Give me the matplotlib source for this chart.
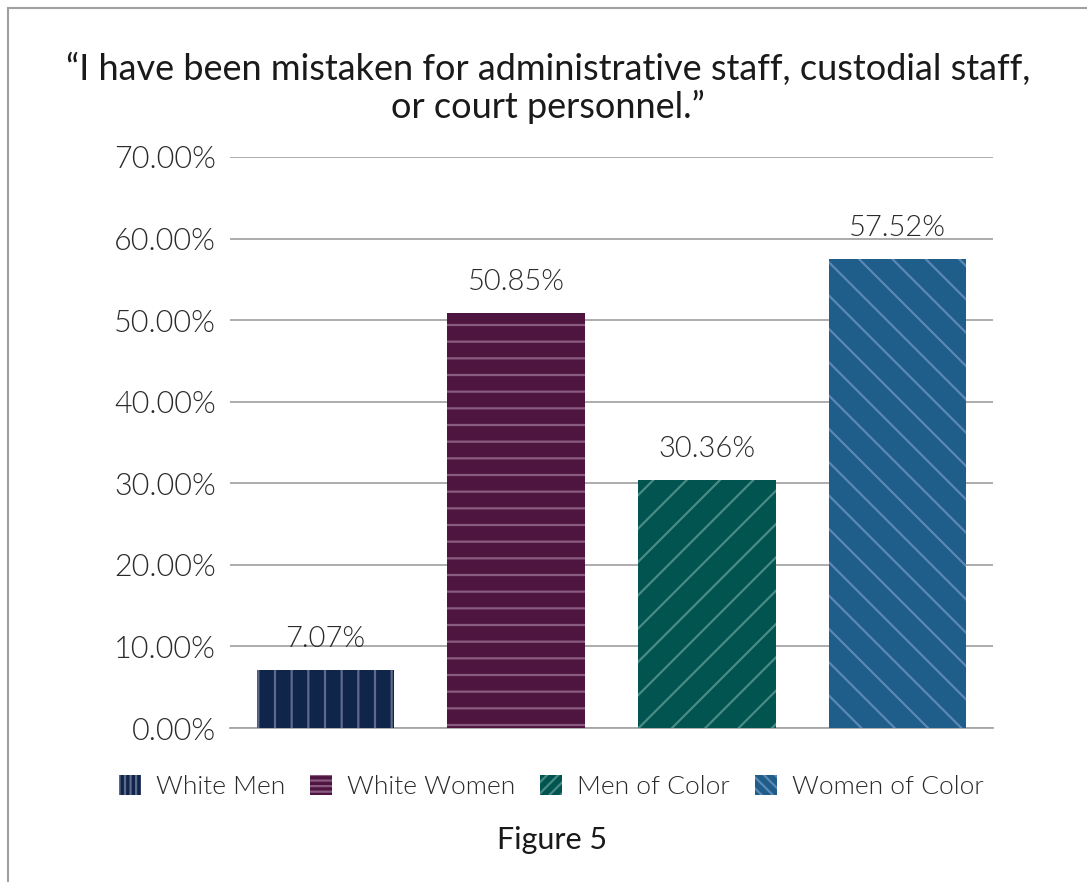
import matplotlib
matplotlib.use("Agg")
import matplotlib.pyplot as plt
from matplotlib.patches import Rectangle, Patch
from matplotlib.ticker import FuncFormatter

categories = ["White Men", "White Women", "Men of Color", "Women of Color"]
values = [7.07, 50.85, 30.36, 57.52]
value_labels = ["7.07%", "50.85%", "30.36%", "57.52%"]
yticks = [0, 10, 20, 30, 40, 50, 60, 70]

colors = ["#10254a", "#4f1541", "#01544f", "#1f5e8a"]
hatch_colors = ["#5d6a8c", "#8a5b80", "#4a8a85", "#5c88b5"]
hatches = ["|", "-", "/", "\\"]

plt.rcParams["font.family"] = ["Lato", "DejaVu Sans"]
plt.rcParams["hatch.linewidth"] = 1.6

TXT = "#2a2a2a"
W = 300

fig = plt.figure(figsize=(10.87, 8.82), dpi=100)
ax = fig.add_axes([0.2116, 0.1746, 0.7019, 0.6474])

x = list(range(len(categories)))
for i in x:
    ax.bar(i, values[i], width=0.72, color=colors[i], edgecolor=hatch_colors[i],
           linewidth=0, hatch=hatches[i], zorder=3)
    ax.text(i, values[i] + 2.2, value_labels[i], ha="center", va="bottom",
            fontsize=21, fontweight=W, color=TXT)

ax.set_xlim(-0.5, 3.5)
ax.set_ylim(0, 70)
ax.set_yticks(yticks)
ax.yaxis.set_major_formatter(FuncFormatter(lambda v, p: f"{v:.2f}%"))
ax.set_xticks([])
ax.grid(axis="y", color="#a6a6a6", linewidth=1.3, zorder=0)
for s in ["top", "right", "left"]:
    ax.spines[s].set_visible(False)
ax.spines["bottom"].set_color("#a6a6a6")
ax.spines["bottom"].set_linewidth(1.3)
ax.tick_params(axis="y", length=0, pad=10, labelsize=22, labelcolor=TXT)
for lab in ax.get_yticklabels():
    lab.set_fontweight(W)

fig.text(0.504, 0.9, "\u201cI have been mistaken for administrative staff, custodial staff,\nor court personnel.\u201d",
         ha="center", va="center", fontsize=26, color="#1a1a1a", linespacing=1.15)

handles = [Patch(facecolor=colors[i], edgecolor=hatch_colors[i], linewidth=0, hatch=hatches[i] * 3)
           for i in x]
leg = fig.legend(handles, categories, loc="center", bbox_to_anchor=(0.507, 0.1077), ncol=4,
                 frameon=False, fontsize=19, handlelength=0.83, handleheight=0.83,
                 columnspacing=0.95, handletextpad=0.57)
for t in leg.get_texts():
    t.set_fontweight(W)
    t.set_color(TXT)

fig.text(0.508, 0.048, "Figure 5", ha="center", va="center", fontsize=22, color="#1a1a1a")

fig.patches.append(Rectangle((8 / 1087, -0.1), 1.2, 1.1 - 8 / 882, transform=fig.transFigure,
                             fill=False, edgecolor="#a0a0a0", linewidth=1.5))

fig.savefig("out.png", dpi=100, facecolor="white")
